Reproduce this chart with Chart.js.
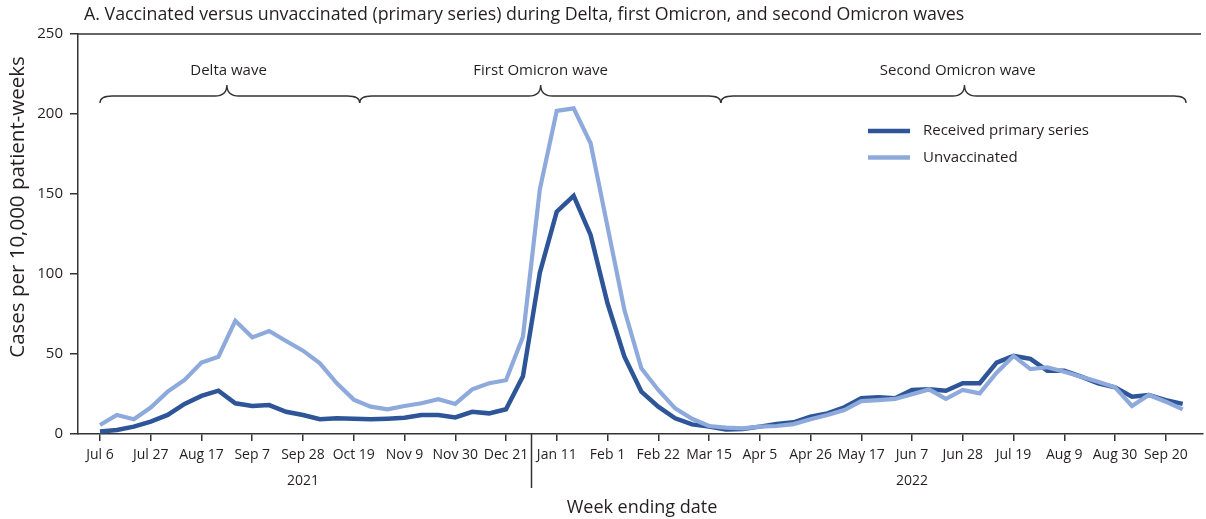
<!DOCTYPE html>
<html>
<head>
<meta charset="utf-8">
<script src="https://cdn.jsdelivr.net/npm/chart.js@4.4.0/dist/chart.umd.min.js"></script>
<style>
  html, body { margin: 0; padding: 0; background: #fff; }
  #wrap { width: 1206px; height: 519px; }
</style>
</head>
<body>
<div id="wrap"><canvas id="grafico" width="1206" height="519"></canvas></div>
<script>
// weekly values, week ending Jul 6 2021 ... Sep 27 2022 (index = week number)
const primarySeries = [
  1.5, 2.5, 4.6, 7.7, 11.9, 18.8, 23.8, 27.1, 19.2, 17.5,
  18.1, 13.9, 11.9, 9.2, 9.8, 9.5, 9.2, 9.6, 10.2, 11.9,
  11.9, 10.4, 13.9, 12.9, 15.5, 36, 100.8, 139, 148.8, 124.4,
  81.7, 48.3, 26.5, 17.1, 9.8, 6, 4.6, 2.8, 3.1, 4.6,
  6.2, 7.3, 10.8, 12.9, 16.7, 22.3, 22.9, 22.3, 27.5, 27.9,
  27, 31.7, 31.7, 44.6, 48.8, 47, 39.6, 39.6, 35.8, 31.7,
  29.2, 23.3, 24.4, 21.2, 18.8
];
const unvaccinated = [
  5.6, 11.9, 9.2, 16.5, 26.5, 33.8, 44.6, 48.3, 70.8, 60.4,
  64.4, 58.1, 52.1, 44.2, 31.7, 21.5, 17.1, 15.4, 17.5, 19.2,
  21.7, 18.8, 27.9, 31.7, 33.6, 60.8, 152.9, 202, 203.5, 181.7,
  129.6, 77.5, 41, 27.5, 16, 9.5, 5, 4, 3.5, 4.6,
  5, 6.2, 9.2, 11.9, 15, 20.6, 21.2, 21.9, 24.8, 27.9,
  22, 27.5, 25.4, 38.3, 48.8, 40.6, 41.7, 38.9, 35.8, 32.7,
  29.2, 17.5, 24.4, 20.2, 15.4
];

const tickLabels = [
  "Jul 6", "Jul 27", "Aug 17", "Sep 7", "Sep 28", "Oct 19", "Nov 9", "Nov 30",
  "Dec 21", "Jan 11", "Feb 1", "Feb 22", "Mar 15", "Apr 5", "Apr 26", "May 17",
  "Jun 7", "Jun 28", "Jul 19", "Aug 9", "Aug 30", "Sep 20"
];
const tickWeeks = tickLabels.map((_, i) => i * 3);

const yearLabels = ["2021", "2022"];
const yearCenters = [12, 48];
const yearBreak = 25.5;

const waveNames = ["Delta wave", "First Omicron wave", "Second Omicron wave"];
const waveStart = [0, 15.35, 36.7];
const waveEnd = [15.35, 36.7, 64.2];
const wavePeak = [7.5, 26.05, 51.1];
const waveLabelAt = [7.6, 26.05, 50.7];

const seriesNames = ["Received primary series", "Unvaccinated"];
const corEscura = "#2d5597";
const corClara = "#8eaadc";
const fonte = "'Open Sans', 'Noto Sans', sans-serif";

function brace(ctx, x1, x2, xp, yEnd, yArm, yTip) {
  const r = 12;
  ctx.beginPath();
  ctx.moveTo(x1, yEnd);
  ctx.quadraticCurveTo(x1, yArm, x1 + r, yArm);
  ctx.lineTo(xp - r, yArm);
  ctx.quadraticCurveTo(xp, yArm, xp, yTip);
  ctx.quadraticCurveTo(xp, yArm, xp + r, yArm);
  ctx.lineTo(x2 - r, yArm);
  ctx.quadraticCurveTo(x2, yArm, x2, yEnd);
  ctx.stroke();
}

const extras = {
  id: "extras",
  afterDraw(chart) {
    const ctx = chart.ctx;
    const xs = chart.scales.x;
    const ys = chart.scales.y;
    const area = chart.chartArea;
    ctx.save();

    // title
    ctx.fillStyle = "#231f20";
    ctx.font = "17.8px " + fonte;
    ctx.textAlign = "left";
    ctx.textBaseline = "middle";
    ctx.fillText("A. Vaccinated versus unvaccinated (primary series) during Delta, first Omicron, and second Omicron waves", 84, 15);

    // top rule
    ctx.strokeStyle = "#333";
    ctx.lineWidth = 1.5;
    ctx.beginPath();
    ctx.moveTo(area.left, ys.getPixelForValue(250));
    ctx.lineTo(1201, ys.getPixelForValue(250));
    ctx.stroke();

    // axis titles
    ctx.textAlign = "center";
    ctx.font = "20.5px " + fonte;
    ctx.save();
    ctx.translate(18, 207);
    ctx.rotate(-Math.PI / 2);
    ctx.fillText("Cases per 10,000 patient-weeks", 0, 0);
    ctx.restore();
    ctx.font = "18px " + fonte;
    ctx.fillText("Week ending date", 642, 508);

    // years and separator
    ctx.font = "14px " + fonte;
    yearLabels.forEach((t, i) => {
      ctx.fillText(t, xs.getPixelForValue(yearCenters[i]), 481);
    });
    const xb = Math.round(xs.getPixelForValue(yearBreak)) + 0.5;
    ctx.lineWidth = 1.5;
    ctx.beginPath();
    ctx.moveTo(xb, area.bottom);
    ctx.lineTo(xb, 488);
    ctx.stroke();

    // wave braces
    ctx.lineWidth = 1.4;
    ctx.strokeStyle = "#333";
    ctx.font = "15px " + fonte;
    waveNames.forEach((nome, i) => {
      const x1 = xs.getPixelForValue(waveStart[i]);
      const x2 = xs.getPixelForValue(waveEnd[i]);
      const xp = xs.getPixelForValue(wavePeak[i]);
      brace(ctx, x1, x2, xp, 103, 96, 85);
      ctx.fillText(nome, xs.getPixelForValue(waveLabelAt[i]), 71);
    });

    // legend
    const cores = [corEscura, corClara];
    ctx.textAlign = "left";
    seriesNames.forEach((nome, i) => {
      const y = 131 + i * 26.5;
      ctx.strokeStyle = cores[i];
      ctx.lineWidth = 4.5;
      ctx.beginPath();
      ctx.moveTo(868, y);
      ctx.lineTo(910, y);
      ctx.stroke();
      ctx.fillStyle = "#231f20";
      ctx.fillText(nome, 923, y);
    });
    ctx.restore();
  }
};

const toPoints = (arr) => arr.map((v, i) => ({ x: i, y: v }));

new Chart(document.getElementById("grafico"), {
  type: "line",
  data: {
    datasets: [
      {
        label: seriesNames[1],
        data: toPoints(unvaccinated),
        borderColor: corClara,
        borderWidth: 4.2,
        pointRadius: 0,
        tension: 0,
      },
      {
        label: seriesNames[0],
        data: toPoints(primarySeries),
        borderColor: corEscura,
        borderWidth: 4.5,
        pointRadius: 0,
        tension: 0,
      },
    ],
  },
  options: {
    responsive: false,
    animation: false,
    devicePixelRatio: 1,
    layout: { padding: { top: 34, right: 3, left: 0, bottom: 0 } },
    plugins: { legend: { display: false }, tooltip: { enabled: false } },
    scales: {
      x: {
        type: "linear",
        min: -1.3,
        max: 65.2,
        afterFit: (s) => { s.height = 85; },
        afterBuildTicks: (s) => { s.ticks = tickWeeks.map((v) => ({ value: v })); },
        grid: { drawOnChartArea: false, drawTicks: true, tickLength: 7, color: "#333", lineWidth: 1.5 },
        border: { display: true, color: "#333", width: 1.5 },
        ticks: {
          autoSkip: false,
          maxRotation: 0,
          padding: 6,
          color: "#231f20",
          font: { family: fonte, size: 14 },
          callback: (v) => tickLabels[tickWeeks.indexOf(v)],
        },
      },
      y: {
        min: 0,
        max: 250,
        afterFit: (s) => { s.width = 78; },
        grid: { drawOnChartArea: false, drawTicks: true, tickLength: 8, color: "#333", lineWidth: 1.5 },
        border: { display: true, color: "#333", width: 1.5 },
        ticks: {
          stepSize: 50,
          padding: 7,
          color: "#231f20",
          font: { family: fonte, size: 15 },
        },
      },
    },
  },
  plugins: [extras],
});
</script>
</body>
</html>
